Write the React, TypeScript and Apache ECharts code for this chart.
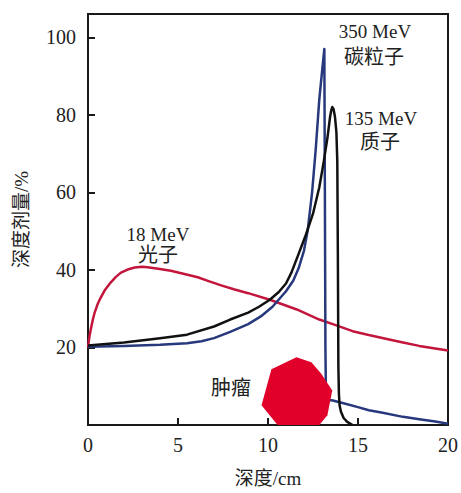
import React, { useEffect, useRef } from "react";
import * as echarts from "echarts";

// 18 MeV photon
const photonX = [0, 0.08, 0.17, 0.27, 0.37, 0.52, 0.7, 0.95, 1.27, 1.55, 1.83, 2.2, 2.6, 3.0, 3.3, 3.9, 4.6, 5.3, 6.1, 6.7, 7.4, 8.1, 8.9, 10.1, 11.6, 12.85, 13.8, 14.7, 15.6, 16.6, 17.5, 18.4, 19.2, 20];
const photonY = [20, 22.8, 25, 27.2, 29, 31, 32.8, 34.9, 36.8, 38.2, 39.3, 40.1, 40.6, 40.8, 40.7, 40.3, 39.8, 39.0, 38.1, 37.1, 36, 35.0, 34, 32.3, 29.8, 27.2, 25.7, 24.2, 23.2, 22.2, 21.3, 20.4, 19.8, 19.2];

// 350 MeV carbon
const carbonX = [0, 2, 4, 5.5, 6.3, 7, 7.9, 8.9, 9.6, 10.25, 11, 11.4, 11.7, 12.0, 12.2, 12.45, 12.65, 12.85, 13.0, 13.13, 13.16, 13.19, 13.22, 13.6, 14.3, 15, 15.6, 16.3, 17.5, 18.5, 19.3, 20];
const carbonY = [20.2, 20.4, 20.7, 21.1, 21.6, 22.4, 24, 26, 28, 30.5, 34.5, 37.2, 40.4, 45, 50, 60, 71, 84, 91, 97, 60, 20, 6.6, 6.3, 5.5, 4.6, 3.8, 3.2, 2.1, 1.4, 0.9, 0.3];

// 135 MeV proton
const protonX = [0, 2, 4, 5.5, 7, 7.9, 8.9, 9.5, 10.1, 10.6, 11, 11.3, 11.6, 12.1, 12.5, 12.85, 13.1, 13.3, 13.45, 13.52, 13.57, 13.64, 13.72, 13.8, 13.85, 13.88, 13.91, 13.94, 13.98, 14.05, 14.2, 14.4, 14.7];
const protonY = [20.5, 21.3, 22.4, 23.3, 25.4, 27.2, 29, 30.5, 32.3, 34.3, 36.5, 39.3, 42.9, 49, 54.5, 61.3, 68, 74, 79.5, 81.3, 82, 81.5, 79.5, 75.5, 68, 45, 15, 8, 5, 3.5, 1.8, 0.8, 0];

// tumour outline
const tumorX = [11.58, 12.41, 12.96, 13.57, 13.3, 12.85, 10.53, 9.64, 10.19];
const tumorY = [17.5, 16.2, 13.2, 8.9, 2.5, 0, 0, 5.1, 14.4];

const xTicks = [0, 5, 10, 15, 20];
const yTicks = [20, 40, 60, 80, 100];

const zip = (xs: number[], ys: number[]) => xs.map((x, i) => [x, ys[i]]);

const FONT = "'Liberation Serif', 'Noto Sans CJK SC', serif";
const INK = "#1a1a1a";

export default function App() {
  const ref = useRef<HTMLDivElement>(null);
  useEffect(() => {
    const chart = echarts.init(ref.current!, null, { renderer: "svg" });
    const textStyle = (t: string, x: number, y: number, size = 19) => ({
      type: "text",
      x,
      y,
      style: {
        text: t,
        fill: "#222",
        font: `${size}px ${FONT}`,
        textAlign: "center",
        textVerticalAlign: "middle",
      },
    });
    const axisCommon = {
      axisLine: { show: true, lineStyle: { color: INK, width: 2 } },
      axisTick: { show: true, inside: true, length: 7, lineStyle: { color: INK, width: 2 } },
      splitLine: { show: false },
    };
    chart.setOption({
      animation: false,
      backgroundColor: "#fff",
      grid: {
        left: 88,
        right: 12,
        top: 14,
        bottom: 60,
        show: true,
        borderColor: INK,
        borderWidth: 2,
      },
      xAxis: {
        type: "value",
        min: 0,
        max: 20,
        interval: 5,
        name: "深度/cm",
        nameLocation: "middle",
        nameGap: 44,
        nameTextStyle: { fontFamily: FONT, fontSize: 19, color: "#222" },
        ...axisCommon,
        axisLabel: {
          fontFamily: FONT,
          fontSize: 20,
          color: "#222",
          margin: 10,
          formatter: (v: number) => (xTicks.includes(v) ? String(v) : ""),
        },
      },
      yAxis: {
        type: "value",
        min: 0,
        max: 106,
        interval: 20,
        name: "深度剂量/%",
        nameLocation: "middle",
        nameRotate: 90,
        nameGap: 57,
        nameTextStyle: { fontFamily: FONT, fontSize: 19, color: "#222" },
        ...axisCommon,
        axisLabel: {
          fontFamily: FONT,
          fontSize: 20,
          color: "#222",
          margin: 12,
          formatter: (v: number) => (yTicks.includes(v) ? String(v) : ""),
        },
      },
      series: [
        {
          type: "line",
          data: zip(photonX, photonY),
          symbol: "none",
          lineStyle: { color: "#c2163d", width: 2.5, join: "round" },
          z: 2,
        },
        {
          type: "line",
          data: zip(carbonX, carbonY),
          symbol: "none",
          lineStyle: { color: "#27387c", width: 2.5, join: "round" },
          z: 3,
        },
        {
          type: "line",
          data: zip(protonX, protonY),
          symbol: "none",
          lineStyle: { color: "#111111", width: 2.5, join: "round" },
          z: 4,
        },
        {
          type: "custom",
          coordinateSystem: "cartesian2d",
          data: [[tumorX[0], tumorY[0]]],
          clip: false,
          z: 5,
          renderItem: (_p: any, api: any) => ({
            type: "polygon",
            shape: { points: tumorX.map((x, i) => api.coord([x, tumorY[i]])) },
            style: { fill: "#e0002a", stroke: "none" },
          }),
        },
      ],
      graphic: [
        textStyle("350 MeV", 375, 31),
        textStyle("碳粒子", 374, 57, 20),
        textStyle("135 MeV", 381, 118),
        textStyle("质子", 380, 142, 20),
        textStyle("18 MeV", 158, 234),
        textStyle("光子", 158, 255, 20),
        textStyle("肿瘤", 231, 388, 20),
      ],
    });
    return () => chart.dispose();
  }, []);
  return (
    <div
      ref={ref}
      style={{ position: "fixed", left: 0, top: 0, width: 461, height: 493 }}
    />
  );
}
